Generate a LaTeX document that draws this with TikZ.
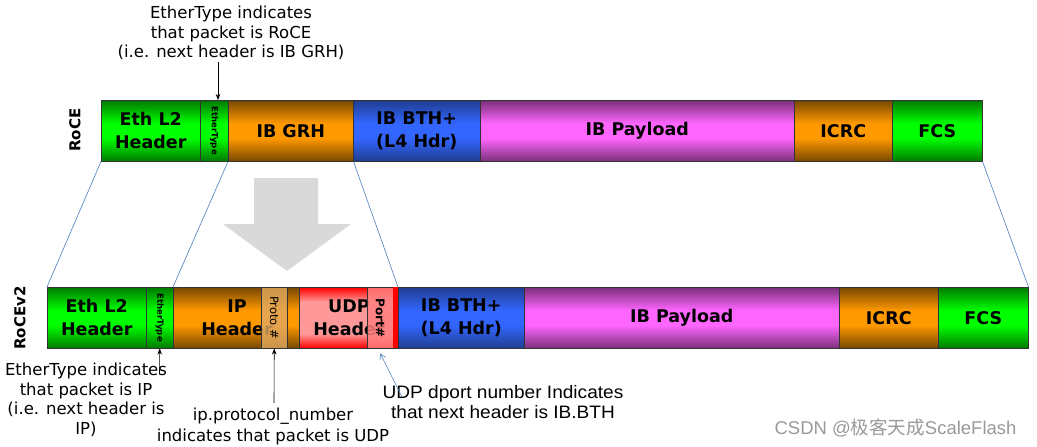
\documentclass[tikz,border=0pt]{standalone}
\usepackage{fontspec}
\setmainfont{DejaVu Sans}
\newfontfamily\tahomaf[FakeStretch=1.06]{Liberation Sans}
\newfontfamily\arialf{Liberation Sans}
\newfontfamily\cjkf{Noto Sans CJK SC}
\usetikzlibrary{arrows.meta}
\definecolor{gE}{HTML}{007A00}
\definecolor{gM}{HTML}{00FF00}
\definecolor{oE}{HTML}{774700}
\definecolor{oM}{HTML}{FF9900}
\definecolor{bE}{HTML}{1F3D8F}
\definecolor{bM}{HTML}{3366FF}
\definecolor{mE}{HTML}{7A307A}
\definecolor{mM}{HTML}{FF66FF}
\definecolor{rE}{HTML}{FF0000}
\definecolor{rM}{HTML}{FF9999}
\definecolor{tan}{HTML}{E0A860}
\definecolor{pinkbox}{HTML}{FF8080}
\definecolor{steel}{HTML}{4A7EBB}
\definecolor{arrowgray}{HTML}{D9D9D9}
\pgfdeclareverticalshading{gshade}{100bp}{color(0bp)=(gE); color(25bp)=(gE); color(44bp)=(gM); color(56bp)=(gM); color(75bp)=(gE); color(100bp)=(gE)}
\pgfdeclareverticalshading{oshade}{100bp}{color(0bp)=(oE); color(25bp)=(oE); color(44bp)=(oM); color(56bp)=(oM); color(75bp)=(oE); color(100bp)=(oE)}
\pgfdeclareverticalshading{bshade}{100bp}{color(0bp)=(bE); color(25bp)=(bE); color(44bp)=(bM); color(56bp)=(bM); color(75bp)=(bE); color(100bp)=(bE)}
\pgfdeclareverticalshading{mshade}{100bp}{color(0bp)=(mE); color(25bp)=(mE); color(44bp)=(mM); color(56bp)=(mM); color(75bp)=(mE); color(100bp)=(mE)}
\pgfdeclareverticalshading{rshade}{100bp}{color(0bp)=(rE); color(25bp)=(rE); color(37bp)=(rM); color(63bp)=(rM); color(75bp)=(rE); color(100bp)=(rE)}
\begin{document}
\begin{tikzpicture}[x=1pt,y=-1pt,
  seg/.style={draw=black!80, line width=0.5pt, inner sep=0pt, minimum height=61pt,
    anchor=north west, align=center, font=\fontsize{17.5}{23}\selectfont\bfseries},
  greenseg/.style={seg, shading=gshade},
  orangeseg/.style={seg, shading=oshade},
  blueseg/.style={seg, shading=bshade},
  magseg/.style={seg, shading=mshade},
  redseg/.style={seg, shading=rshade},
  etlabel/.style={rotate=-90, font=\fontsize{8.5}{9}\selectfont\bfseries},
  note/.style={align=center, font=\fontsize{16.5}{19.5}\selectfont},
  link/.style={draw=steel, line width=0.6pt},
  pointer/.style={draw=black, line width=0.6pt, -{Stealth[length=6pt,width=4.5pt]}},
  barlabel/.style={rotate=90, font=\fontsize{15}{15}\selectfont\bfseries}
]
\useasboundingbox (0,0) rectangle (1037,447);

% gray arrow
\fill[arrowgray] (254,178) -- (318,178) -- (318,224) -- (351,224) -- (287,271) -- (223,224) -- (254,224) -- cycle;

% RoCE bar
\node[greenseg, minimum width=99pt] (eth1) at (101,100) {Eth L2\\Header};
\node[greenseg, minimum width=28pt] (et1) at (200,100) {};
\node[etlabel] at (et1.center) {EtherType};
\node[orangeseg, minimum width=125pt] (grh) at (228,100) {IB GRH};
\node[blueseg, minimum width=127pt] (bth1) at (353,100) {IB BTH+\\(L4 Hdr)};
\node[magseg, minimum width=314pt] (pay1) at (480,100) {IB Payload};
\node[orangeseg, minimum width=98pt] (icrc1) at (794,100) {ICRC};
\node[greenseg, minimum width=90pt] (fcs1) at (892,100) {FCS};
\node[barlabel] (lroce) at (75,130) {RoCE};

% RoCEv2 bar
\node[greenseg, minimum width=99pt] (eth2) at (47,287) {Eth L2\\Header};
\node[greenseg, minimum width=27pt] (et2) at (146,287) {};
\node[etlabel] at (et2.center) {EtherType};
\node[orangeseg, minimum width=126pt] (ip) at (173,287) {};
\node[align=center, font=\fontsize{17.5}{23}\selectfont\bfseries] (iptxt) at (237,318) {IP\\Header};
\node[draw=black!80, line width=0.5pt, fill=tan, fill opacity=0.8, inner sep=0pt,
  minimum width=26pt, minimum height=61pt, anchor=north west] (proto) at (261,287) {};
\node[rotate=-90, font=\fontsize{11.5}{12}\selectfont] at (proto.center) {Proto \#};
\node[redseg, minimum width=99pt] (udp) at (299,287) {};
\node[align=center, font=\fontsize{17.5}{23}\selectfont\bfseries] (udptxt) at (349,318) {UDP\\Header};
\node[draw=black!80, line width=0.5pt, fill=pinkbox, fill opacity=0.85, inner sep=0pt,
  minimum width=26pt, minimum height=61pt, anchor=north west] (port) at (367,287) {};
\fill[rE] (393.3,287.3) rectangle (397.7,347.7);
\node[rotate=-90, font=\fontsize{12}{12}\selectfont\bfseries] at (port.center) {Port\#};
\node[blueseg, minimum width=126pt] (bth2) at (398,287) {IB BTH+\\(L4 Hdr)};
\node[magseg, minimum width=315pt] (pay2) at (524,287) {IB Payload};
\node[orangeseg, minimum width=99pt] (icrc2) at (839,287) {ICRC};
\node[greenseg, minimum width=90pt] (fcs2) at (938,287) {FCS};
\node[barlabel] (lrocev2) at (20,318) {RoCEv2};

% expansion lines
\draw[link] (eth1.south west) -- (eth2.north west);
\draw[link] (grh.south west) -- (ip.north west);
\draw[link] (grh.south east) -- (bth2.north west);
\draw[link] (fcs1.south east) -- (fcs2.north east);

% top annotation
\node[note] (n1) at (231,33) {EtherType indicates\\that packet is RoCE\\(i.e. next header is IB GRH)};
\coordinate (n1s) at (218,62);
\draw[pointer] (n1s) -- (n1s |- et1.north);

% bottom-left annotation
\node[note] (n2) at (86,400) {EtherType indicates\\that packet is IP\\(i.e. next header is\\IP)};
\coordinate (n2s) at (159.5,374);
\draw[pointer] (n2s) -- (et2.south);

% ip.protocol annotation
\node[note, font=\fontsize{16.5}{21}\selectfont] (n3) at (273,426) {ip.protocol\_number\\indicates that packet is UDP};
\coordinate (n3s) at (274,403);
\draw[pointer] (n3s) -- (proto.south);

% UDP dport annotation
\node[align=center, font=\tahomaf\fontsize{18}{20}\selectfont] (n4) at (503,402) {UDP dport number Indicates\\that next header is IB.BTH};
\coordinate (n4s) at (402,397);
\draw[draw=steel, line width=0.6pt, -{Straight Barb[length=5pt,width=6pt]}] (n4s) -- ([yshift=-5pt]port.south);

% watermark
\node[anchor=east, text=black!40, font=\arialf\fontsize{18.5}{19}\selectfont] (wm) at (1020,428) {CSDN @{\cjkf 极客天成}ScaleFlash};
\end{tikzpicture}
\end{document}
